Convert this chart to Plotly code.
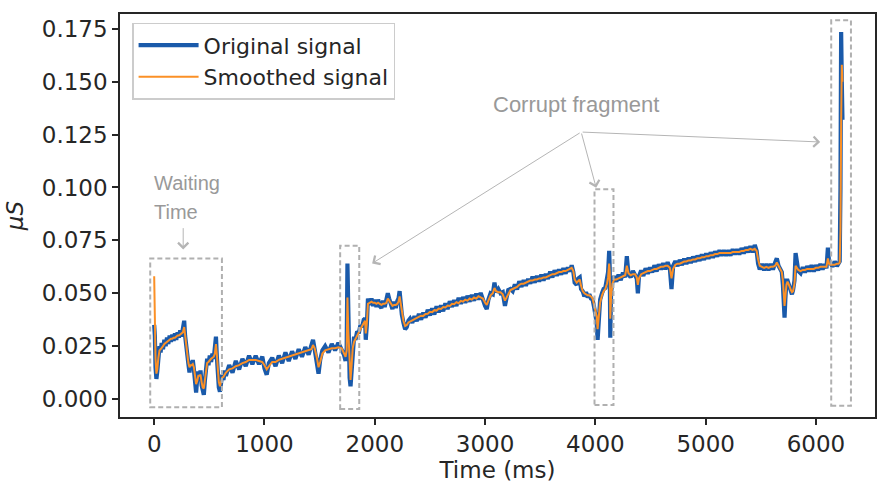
import plotly.graph_objects as go

# ---------------- data ----------------
time_ms = [
    0, 6, 12, 20, 28, 38, 48, 58, 68, 80, 92, 104, 116, 128, 140, 152, 164, 176, 188, 200,
    212, 224, 236, 248, 260, 272, 280, 290, 300, 310, 320, 330, 340, 350, 360, 370, 380, 390, 400, 410,
    420, 430, 440, 450, 460, 470, 480, 492, 504, 516, 528, 540, 550, 560, 568, 576, 586, 596, 606, 616,
    628, 640, 650, 680, 710, 740, 770, 800, 830, 860, 890, 920, 950, 980, 1000, 1020, 1040, 1070, 1100, 1130,
    1160, 1190, 1220, 1250, 1280, 1310, 1340, 1370, 1400, 1425, 1440, 1455, 1475, 1490, 1505, 1525, 1550, 1580, 1610, 1640,
    1670, 1700, 1720, 1735, 1745, 1752, 1760, 1772, 1780, 1790, 1800, 1812, 1825, 1840, 1855, 1870, 1885, 1900, 1912, 1918,
    1928, 1938, 1955, 1970, 1985, 2000, 2015, 2030, 2045, 2060, 2075, 2090, 2105, 2118, 2130, 2145, 2160, 2175, 2190, 2205,
    2215, 2225, 2235, 2245, 2260, 2275, 2290, 2305, 2320, 2340, 2360, 2380, 2400, 2420, 2440, 2460, 2480, 2500, 2520, 2540,
    2560, 2580, 2600, 2620, 2640, 2660, 2680, 2700, 2720, 2740, 2760, 2780, 2800, 2820, 2840, 2860, 2880, 2900, 2920, 2940,
    2960, 2980, 3000, 3015, 3030, 3050, 3070, 3085, 3100, 3120, 3140, 3160, 3180, 3195, 3210, 3230, 3250, 3270, 3290, 3310,
    3330, 3350, 3370, 3390, 3410, 3430, 3450, 3470, 3490, 3510, 3530, 3550, 3570, 3590, 3610, 3630, 3650, 3670, 3690, 3710,
    3730, 3750, 3770, 3785, 3800, 3812, 3830, 3845, 3858, 3870, 3885, 3900, 3915, 3930, 3945, 3960, 3975, 3990, 4000, 4012,
    4020, 4030, 4043, 4060, 4075, 4090, 4105, 4115, 4125, 4130, 4135, 4142, 4155, 4170, 4190, 4210, 4230, 4250, 4270, 4285,
    4300, 4320, 4340, 4360, 4375, 4385, 4395, 4415, 4435, 4455, 4475, 4495, 4515, 4535, 4555, 4575, 4595, 4615, 4635, 4655,
    4675, 4690, 4705, 4725, 4745, 4765, 4785, 4805, 4825, 4845, 4865, 4885, 4905, 4925, 4945, 4965, 4985, 5005, 5025, 5045,
    5065, 5085, 5105, 5125, 5145, 5165, 5185, 5205, 5225, 5245, 5265, 5285, 5305, 5325, 5345, 5365, 5385, 5405, 5425, 5445,
    5462, 5475, 5490, 5510, 5530, 5550, 5570, 5590, 5610, 5630, 5645, 5660, 5675, 5690, 5700, 5708, 5715, 5722, 5732, 5742,
    5752, 5762, 5772, 5782, 5792, 5805, 5815, 5825, 5840, 5860, 5880, 5900, 5920, 5940, 5960, 5980, 6000, 6020, 6040, 6060,
    6080, 6095, 6108, 6118, 6130, 6150, 6170, 6190, 6205, 6215, 6222, 6228, 6234, 6240,
]

original_us = [
    0.0350, 0.0300, 0.0150, 0.0095, 0.0130, 0.0200, 0.0250, 0.0220, 0.0265, 0.0235, 0.0280, 0.0250, 0.0290, 0.0260, 0.0300, 0.0270, 0.0305, 0.0275, 0.0310, 0.0280,
    0.0315, 0.0290, 0.0325, 0.0295, 0.0330, 0.0370, 0.0300, 0.0240, 0.0185, 0.0165, 0.0125, 0.0180, 0.0140, 0.0185, 0.0140, 0.0100, 0.0030, 0.0095, 0.0130, 0.0095,
    0.0135, 0.0065, 0.0035, 0.0020, 0.0090, 0.0170, 0.0190, 0.0160, 0.0205, 0.0175, 0.0215, 0.0190, 0.0235, 0.0295, 0.0200, 0.0100, 0.0055, 0.0035, 0.0095, 0.0115,
    0.0090, 0.0135, 0.0110, 0.0160, 0.0125, 0.0180, 0.0140, 0.0190, 0.0155, 0.0205, 0.0165, 0.0205, 0.0165, 0.0200, 0.0145, 0.0115, 0.0170, 0.0195, 0.0155, 0.0205,
    0.0170, 0.0220, 0.0180, 0.0225, 0.0190, 0.0235, 0.0200, 0.0245, 0.0210, 0.0250, 0.0280, 0.0235, 0.0180, 0.0120, 0.0185, 0.0230, 0.0250, 0.0220, 0.0260, 0.0230,
    0.0265, 0.0235, 0.0210, 0.0180, 0.0240, 0.0640, 0.0300, 0.0100, 0.0060, 0.0130, 0.0250, 0.0295, 0.0280, 0.0320, 0.0310, 0.0350, 0.0340, 0.0375, 0.0380, 0.0280,
    0.0350, 0.0475, 0.0445, 0.0475, 0.0440, 0.0470, 0.0435, 0.0470, 0.0440, 0.0430, 0.0465, 0.0435, 0.0470, 0.0500, 0.0475, 0.0440, 0.0425, 0.0460, 0.0430, 0.0465,
    0.0475, 0.0510, 0.0450, 0.0400, 0.0360, 0.0330, 0.0340, 0.0370, 0.0380, 0.0360, 0.0392, 0.0368, 0.0402, 0.0375, 0.0408, 0.0385, 0.0422, 0.0395, 0.0428, 0.0400,
    0.0438, 0.0410, 0.0443, 0.0415, 0.0452, 0.0425, 0.0462, 0.0435, 0.0468, 0.0440, 0.0478, 0.0450, 0.0482, 0.0455, 0.0488, 0.0460, 0.0492, 0.0465, 0.0498, 0.0470,
    0.0502, 0.0465, 0.0440, 0.0425, 0.0470, 0.0500, 0.0495, 0.0550, 0.0505, 0.0520, 0.0500, 0.0505, 0.0440, 0.0480, 0.0515, 0.0520, 0.0510, 0.0542, 0.0518, 0.0556,
    0.0530, 0.0562, 0.0535, 0.0568, 0.0545, 0.0578, 0.0550, 0.0582, 0.0555, 0.0588, 0.0560, 0.0592, 0.0568, 0.0602, 0.0575, 0.0608, 0.0583, 0.0612, 0.0588, 0.0618,
    0.0593, 0.0622, 0.0603, 0.0632, 0.0600, 0.0550, 0.0540, 0.0570, 0.0575, 0.0520, 0.0510, 0.0485, 0.0505, 0.0480, 0.0495, 0.0475, 0.0470, 0.0430, 0.0400, 0.0360,
    0.0280, 0.0420, 0.0470, 0.0500, 0.0520, 0.0525, 0.0560, 0.0600, 0.0700, 0.0620, 0.0290, 0.0500, 0.0560, 0.0580, 0.0555, 0.0588, 0.0562, 0.0598, 0.0575, 0.0675,
    0.0590, 0.0575, 0.0605, 0.0580, 0.0570, 0.0500, 0.0580, 0.0608, 0.0582, 0.0618, 0.0592, 0.0622, 0.0598, 0.0632, 0.0603, 0.0637, 0.0612, 0.0642, 0.0613, 0.0647,
    0.0618, 0.0520, 0.0630, 0.0652, 0.0628, 0.0658, 0.0633, 0.0663, 0.0638, 0.0668, 0.0643, 0.0673, 0.0648, 0.0678, 0.0653, 0.0683, 0.0658, 0.0688, 0.0663, 0.0693,
    0.0668, 0.0698, 0.0673, 0.0703, 0.0678, 0.0703, 0.0678, 0.0703, 0.0678, 0.0708, 0.0683, 0.0708, 0.0683, 0.0713, 0.0688, 0.0718, 0.0693, 0.0723, 0.0693, 0.0728,
    0.0700, 0.0640, 0.0612, 0.0638, 0.0608, 0.0638, 0.0608, 0.0638, 0.0612, 0.0645, 0.0665, 0.0630, 0.0610, 0.0600, 0.0540, 0.0450, 0.0385, 0.0470, 0.0560, 0.0560,
    0.0540, 0.0530, 0.0510, 0.0495, 0.0515, 0.0560, 0.0690, 0.0640, 0.0605, 0.0595, 0.0623, 0.0598, 0.0628, 0.0603, 0.0632, 0.0603, 0.0633, 0.0608, 0.0638, 0.0613,
    0.0637, 0.0618, 0.0715, 0.0650, 0.0645, 0.0625, 0.0650, 0.0628, 0.0645, 0.0650, 0.1000, 0.1735, 0.1500, 0.1320,
]

smoothed_us = [
    0.0580, 0.0300, 0.0190, 0.0120, 0.0140, 0.0195, 0.0230, 0.0235, 0.0245, 0.0250, 0.0260, 0.0265, 0.0270, 0.0275, 0.0280, 0.0285, 0.0285, 0.0290, 0.0290, 0.0295,
    0.0300, 0.0300, 0.0305, 0.0310, 0.0315, 0.0340, 0.0305, 0.0250, 0.0200, 0.0170, 0.0150, 0.0160, 0.0160, 0.0165, 0.0150, 0.0110, 0.0070, 0.0085, 0.0110, 0.0110,
    0.0115, 0.0080, 0.0055, 0.0050, 0.0090, 0.0150, 0.0170, 0.0175, 0.0185, 0.0190, 0.0195, 0.0200, 0.0215, 0.0260, 0.0210, 0.0120, 0.0080, 0.0060, 0.0085, 0.0100,
    0.0105, 0.0120, 0.0125, 0.0140, 0.0145, 0.0155, 0.0160, 0.0170, 0.0175, 0.0185, 0.0185, 0.0185, 0.0180, 0.0175, 0.0160, 0.0140, 0.0155, 0.0175, 0.0175, 0.0185,
    0.0190, 0.0195, 0.0200, 0.0205, 0.0210, 0.0215, 0.0220, 0.0225, 0.0230, 0.0235, 0.0255, 0.0240, 0.0195, 0.0150, 0.0175, 0.0215, 0.0230, 0.0235, 0.0240, 0.0240,
    0.0245, 0.0240, 0.0220, 0.0200, 0.0230, 0.0480, 0.0320, 0.0150, 0.0090, 0.0160, 0.0240, 0.0270, 0.0285, 0.0300, 0.0315, 0.0330, 0.0345, 0.0360, 0.0370, 0.0310,
    0.0360, 0.0450, 0.0455, 0.0460, 0.0455, 0.0455, 0.0450, 0.0455, 0.0450, 0.0445, 0.0450, 0.0450, 0.0455, 0.0475, 0.0465, 0.0450, 0.0440, 0.0445, 0.0445, 0.0450,
    0.0460, 0.0485, 0.0455, 0.0410, 0.0370, 0.0345, 0.0350, 0.0362, 0.0368, 0.0372, 0.0378, 0.0384, 0.0388, 0.0394, 0.0393, 0.0402, 0.0403, 0.0412, 0.0410, 0.0420,
    0.0418, 0.0428, 0.0426, 0.0435, 0.0433, 0.0442, 0.0440, 0.0450, 0.0448, 0.0458, 0.0453, 0.0464, 0.0460, 0.0470, 0.0465, 0.0475, 0.0470, 0.0480, 0.0475, 0.0486,
    0.0480, 0.0475, 0.0455, 0.0445, 0.0465, 0.0490, 0.0500, 0.0525, 0.0510, 0.0505, 0.0505, 0.0495, 0.0465, 0.0480, 0.0500, 0.0515, 0.0520, 0.0525, 0.0530, 0.0540,
    0.0545, 0.0545, 0.0550, 0.0555, 0.0560, 0.0560, 0.0565, 0.0565, 0.0570, 0.0570, 0.0575, 0.0575, 0.0580, 0.0585, 0.0590, 0.0590, 0.0595, 0.0600, 0.0600, 0.0605,
    0.0605, 0.0610, 0.0615, 0.0620, 0.0605, 0.0565, 0.0550, 0.0560, 0.0565, 0.0535, 0.0510, 0.0500, 0.0495, 0.0490, 0.0490, 0.0485, 0.0475, 0.0445, 0.0420, 0.0390,
    0.0330, 0.0400, 0.0455, 0.0490, 0.0510, 0.0520, 0.0545, 0.0575, 0.0640, 0.0600, 0.0380, 0.0480, 0.0545, 0.0565, 0.0565, 0.0570, 0.0575, 0.0580, 0.0585, 0.0630,
    0.0595, 0.0585, 0.0590, 0.0590, 0.0575, 0.0540, 0.0570, 0.0590, 0.0595, 0.0600, 0.0605, 0.0605, 0.0610, 0.0615, 0.0615, 0.0620, 0.0625, 0.0625, 0.0630, 0.0630,
    0.0620, 0.0570, 0.0615, 0.0635, 0.0640, 0.0640, 0.0645, 0.0650, 0.0650, 0.0655, 0.0655, 0.0660, 0.0660, 0.0665, 0.0665, 0.0670, 0.0670, 0.0675, 0.0675, 0.0680,
    0.0680, 0.0685, 0.0685, 0.0690, 0.0690, 0.0690, 0.0690, 0.0690, 0.0690, 0.0695, 0.0695, 0.0695, 0.0695, 0.0700, 0.0700, 0.0705, 0.0705, 0.0710, 0.0705, 0.0710,
    0.0700, 0.0660, 0.0630, 0.0625, 0.0620, 0.0625, 0.0620, 0.0625, 0.0625, 0.0630, 0.0645, 0.0630, 0.0615, 0.0600, 0.0560, 0.0490, 0.0440, 0.0480, 0.0540, 0.0555,
    0.0545, 0.0530, 0.0515, 0.0505, 0.0510, 0.0545, 0.0630, 0.0620, 0.0610, 0.0605, 0.0610, 0.0610, 0.0615, 0.0615, 0.0615, 0.0615, 0.0620, 0.0620, 0.0625, 0.0625,
    0.0625, 0.0625, 0.0665, 0.0640, 0.0635, 0.0635, 0.0635, 0.0640, 0.0640, 0.0645, 0.0800, 0.1300, 0.1580, 0.1500,
]

x_ticks = [0, 1000, 2000, 3000, 4000, 5000, 6000]
y_ticks = [0.000, 0.025, 0.050, 0.075, 0.100, 0.125, 0.150, 0.175]
series_names = ["Original signal", "Smoothed signal"]

# dashed boxes around the fragments: (t0, t1, v0, v1)
box_waiting = [-36, 614, -0.0039, 0.0664]
box_fragments = [
    [1686, 1859, -0.0047, 0.0725],
    [3992, 4164, -0.0028, 0.0992],
    [6138, 6317, -0.0032, 0.1790],
]
# annotation anchor points
waiting_text_pos = [(-18, 0.1020, "Waiting"), (-18, 0.0885, "Time")]
waiting_arrow = [(263, 0.0815), (263, 0.0707)]  # tail, head
corrupt_text_pos = (3826, 0.1394)
corrupt_tail = (3871, 0.1262)
corrupt_heads = [(1976, 0.0641), (4007, 0.0999), (6038, 0.1215)]

BLUE = "#1a5aaa"
ORANGE = "#fb9026"
GRAY_TXT = "#999999"
GRAY_ARROW = "#b5b5b5"
GRAY_BOX = "#b0b0b0"
INK = "#262626"

fig = go.Figure()
fig.add_trace(go.Scatter(x=time_ms, y=original_us, mode="lines", name=series_names[0],
                         line=dict(color=BLUE, width=4.2)))
fig.add_trace(go.Scatter(x=time_ms, y=smoothed_us, mode="lines", name=series_names[1],
                         line=dict(color=ORANGE, width=2)))

shapes = []
for b in [box_waiting] + box_fragments:
    shapes.append(dict(type="rect", xref="x", yref="y", x0=b[0], x1=b[1], y0=b[2], y1=b[3],
                       line=dict(color=GRAY_BOX, width=2, dash="5px,3px"), fillcolor="rgba(0,0,0,0)"))

annotations = []
for (tx, ty, txt) in waiting_text_pos:
    annotations.append(dict(x=tx, y=ty, xref="x", yref="y", text=txt, showarrow=False,
                            xanchor="left", yanchor="middle",
                            font=dict(family="Liberation Sans, Arial", size=20, color=GRAY_TXT)))
annotations.append(dict(x=waiting_arrow[1][0], y=waiting_arrow[1][1], ax=waiting_arrow[0][0], ay=waiting_arrow[0][1],
                        xref="x", yref="y", axref="x", ayref="y", text="", showarrow=True,
                        arrowhead=4, arrowsize=2, arrowwidth=1, arrowcolor=GRAY_ARROW))
annotations.append(dict(x=corrupt_text_pos[0], y=corrupt_text_pos[1], xref="x", yref="y",
                        text="Corrupt fragment", showarrow=False, xanchor="center", yanchor="middle",
                        font=dict(family="Liberation Sans, Arial", size=22, color=GRAY_TXT)))
for hx, hy in corrupt_heads:
    annotations.append(dict(x=hx, y=hy, ax=corrupt_tail[0], ay=corrupt_tail[1],
                            xref="x", yref="y", axref="x", ayref="y", text="", showarrow=True,
                            arrowhead=4, arrowsize=2, arrowwidth=1, arrowcolor=GRAY_ARROW))

axis_common = dict(showline=True, mirror=True, linecolor=INK, linewidth=1.5,
                   ticks="outside", ticklen=6, tickwidth=1.5, tickcolor=INK,
                   showgrid=False, zeroline=False,
                   tickfont=dict(family="DejaVu Sans", size=23, color=INK))

fig.update_layout(
    width=895, height=491,
    margin=dict(l=120, r=20, t=13, b=73),
    plot_bgcolor="white", paper_bgcolor="white",
    shapes=shapes, annotations=annotations,
    legend=dict(x=0.016, y=0.978, xanchor="left", yanchor="top", itemwidth=60,
                bgcolor="rgba(255,255,255,0.9)", bordercolor="#cccccc", borderwidth=1.5,
                font=dict(family="DejaVu Sans", size=22, color=INK)),
    xaxis=dict(range=[-310, 6535], tickvals=x_ticks, ticktext=[str(v) for v in x_ticks],
               title=dict(text="Time (ms)", font=dict(family="DejaVu Sans", size=23, color=INK), standoff=6),
               **axis_common),
    yaxis=dict(range=[-0.0085, 0.182], tickvals=y_ticks, ticktext=[f"{v:.3f}" for v in y_ticks],
               title=dict(text="<i>μS</i>", font=dict(family="DejaVu Sans", size=23, color=INK), standoff=12),
               **axis_common),
)

fig.write_html("out.html")
